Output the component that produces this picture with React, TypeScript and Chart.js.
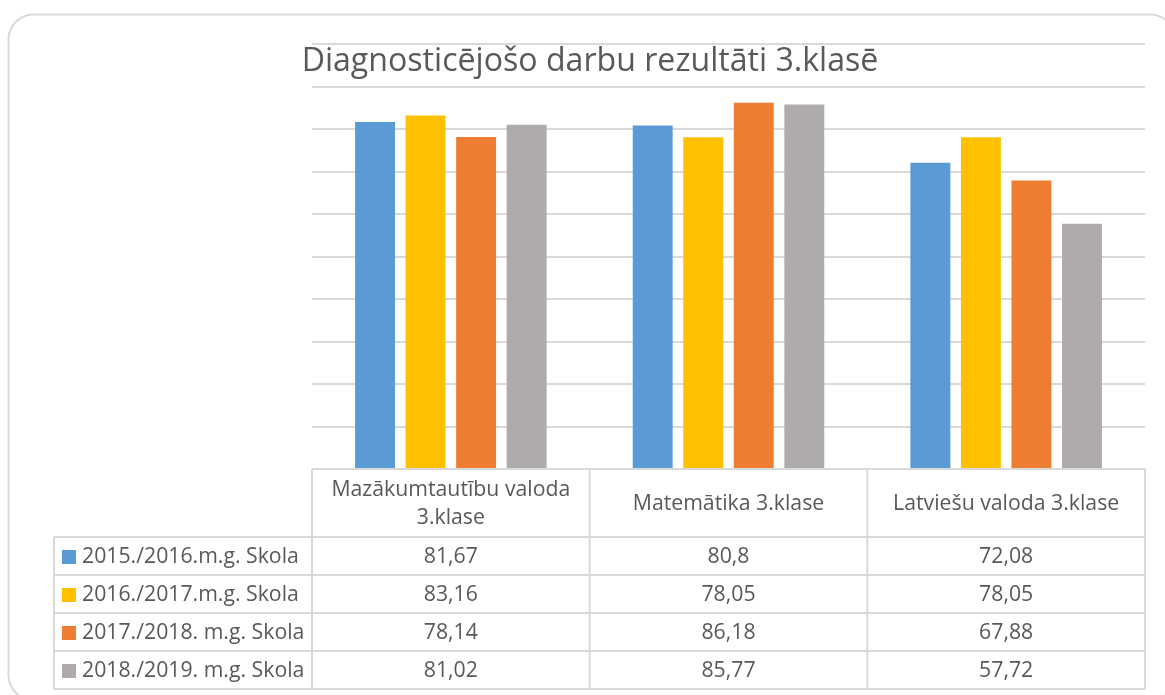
import React, { useEffect, useRef } from "react";
import { Chart, registerables } from "chart.js";

Chart.register(...registerables);

const TITLE = "Diagnosticējošo darbu rezultāti 3.klasē";
const categories: string[][] = [
  ["Mazākumtautību valoda", "3.klase"],
  ["Matemātika 3.klase"],
  ["Latviešu valoda 3.klase"],
];
const seriesNames = [
  "2015./2016.m.g. Skola",
  "2016./2017.m.g. Skola",
  "2017./2018. m.g. Skola",
  "2018./2019. m.g. Skola",
];
const values2015 = [81.67, 80.8, 72.08];
const values2016 = [83.16, 78.05, 78.05];
const values2017 = [78.14, 86.18, 67.88];
const values2018 = [81.02, 85.77, 57.72];
const seriesColors = ["#5b9bd5", "#ffc000", "#ed7d31", "#afabab"];

const W = 1165;
const H = 695;
const FONT = "'Open Sans', 'DejaVu Sans', sans-serif";
const TEXT = "#595959";
const LINE = "#d9d9d9";

function fitSize(ctx: CanvasRenderingContext2D, text: string, target: number) {
  ctx.font = `100px ${FONT}`;
  const w = ctx.measureText(text).width;
  return (100 * target) / w;
}

const tablePlugin = {
  id: "dataTable",
  beforeDraw(chart: any) {
    const ctx = chart.ctx as CanvasRenderingContext2D;
    ctx.save();
    ctx.fillStyle = "#ffffff";
    ctx.fillRect(0, 0, W, H);
    // outer rounded frame
    ctx.strokeStyle = LINE;
    ctx.lineWidth = 2;
    ctx.beginPath();
    (ctx as any).roundRect(8.5, 14.5, 1175 - 8.5, 700 - 14.5, 25);
    ctx.stroke();
    ctx.restore();
  },
  afterDraw(chart: any) {
    const ctx = chart.ctx as CanvasRenderingContext2D;
    const area = chart.chartArea;
    const xs = chart.scales.x;
    const n = categories.length;
    const left = area.left;
    const right = area.right;
    const catW = (right - left) / n;
    const headerTop = area.bottom;
    const headerH = 68;
    const rowH = 38;
    const tableLeft = 54;
    const rowsTop = headerTop + headerH;
    const nRows = chart.data.datasets.length;
    const bottom = rowsTop + rowH * nRows;

    ctx.save();
    ctx.strokeStyle = LINE;
    ctx.lineWidth = 2;
    ctx.beginPath();
    // header top
    ctx.moveTo(left, headerTop);
    ctx.lineTo(right, headerTop);
    // row lines
    for (let r = 0; r <= nRows; r++) {
      const y = rowsTop + r * rowH;
      ctx.moveTo(tableLeft, y);
      ctx.lineTo(right, y);
    }
    // verticals
    ctx.moveTo(tableLeft, rowsTop);
    ctx.lineTo(tableLeft, bottom);
    for (let c = 0; c <= n; c++) {
      const x = left + c * catW;
      ctx.moveTo(x, headerTop);
      ctx.lineTo(x, bottom);
    }
    ctx.stroke();

    // header labels
    const fs = fitSize(ctx, seriesNames[0], 217);
    ctx.font = `${fs}px ${FONT}`;
    ctx.fillStyle = TEXT;
    ctx.textAlign = "center";
    ctx.textBaseline = "alphabetic";
    categories.forEach((lines, i) => {
      const cx = xs.getPixelForValue(i);
      const lh = 28;
      const mid = headerTop + headerH / 2;
      const first = mid - ((lines.length - 1) * lh) / 2 + 7;
      lines.forEach((ln, j) => ctx.fillText(ln, cx, first + j * lh));
    });

    // rows
    chart.data.datasets.forEach((ds: any, r: number) => {
      const y = rowsTop + r * rowH;
      const base = y + rowH / 2 + 7;
      ctx.fillStyle = ds.backgroundColor;
      ctx.fillRect(62, y + rowH / 2 - 6, 14, 14);
      ctx.fillStyle = TEXT;
      ctx.textAlign = "left";
      ctx.fillText(ds.label, 82, base);
      ctx.textAlign = "center";
      ds.data.forEach((v: number, i: number) => {
        ctx.fillText(String(v).replace(".", ","), xs.getPixelForValue(i), base);
      });
    });

    // title
    const ts = fitSize(ctx, TITLE, 577);
    ctx.font = `${ts}px ${FONT}`;
    ctx.fillStyle = TEXT;
    ctx.textAlign = "center";
    ctx.fillText(TITLE, 590, 71);
    ctx.restore();
  },
};

export default function App() {
  const ref = useRef<HTMLCanvasElement>(null);
  useEffect(() => {
    if (!ref.current) return;
    const allValues = [values2015, values2016, values2017, values2018];
    const chart = new Chart(ref.current, {
      type: "bar",
      data: {
        labels: categories.map((c) => c.join(" ")),
        datasets: seriesNames.map((name, i) => ({
          label: name,
          data: allValues[i],
          backgroundColor: seriesColors[i],
          borderWidth: 0,
          barPercentage: 0.79,
          categoryPercentage: 0.728,
        })),
      },
      options: {
        responsive: false,
        animation: false,
        layout: { padding: { left: 312, right: 20, top: 44, bottom: 226 } },
        plugins: {
          legend: { display: false },
          title: { display: false },
          tooltip: { enabled: false },
        },
        scales: {
          x: {
            display: false,
          },
          y: {
            min: 0,
            max: 100,
            ticks: { display: false, stepSize: 10 },
            border: { display: false },
            grid: { color: LINE, lineWidth: 2, drawTicks: false },
          },
        },
      },
      plugins: [tablePlugin],
    });
    return () => chart.destroy();
  }, []);
  return (
    <div style={{ position: "fixed", left: 0, top: 0, width: W, height: H, background: "#fff" }}>
      <canvas ref={ref} width={W} height={H} style={{ width: W, height: H, display: "block" }} />
    </div>
  );
}
